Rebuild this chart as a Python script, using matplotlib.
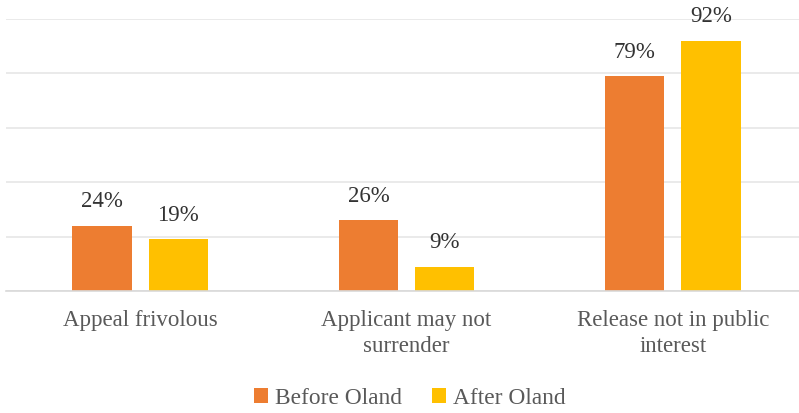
import matplotlib
matplotlib.use("Agg")
import matplotlib.pyplot as plt
import numpy as np

categories = ["Appeal frivolous", "Applicant may not\nsurrender", "Release not in public\ninterest"]
before = [24, 26, 79]
after = [19, 9, 92]
series_names = ["Before Oland", "After Oland"]
colors = ["#ED7D31", "#FFC000"]

plt.rcParams['font.family'] = ['Liberation Serif', 'DejaVu Serif']

fig = plt.figure(figsize=(7.99, 4.13), dpi=100)
ax = fig.add_axes([6/799, (413-291)/413, (799-6)/799, (291-19)/413])

x = np.arange(len(categories))
w = 0.222
off = 0.143
b1 = ax.bar(x - off, before, w, color=colors[0], label=series_names[0], zorder=3)
b2 = ax.bar(x + off, after, w, color=colors[1], label=series_names[1], zorder=3)

for bars, vals in ((b1, before), (b2, after)):
    for r, v in zip(bars, vals):
        ax.text(r.get_x() + r.get_width()/2, v + 5, f"{v}%", ha="center", va="bottom",
                fontsize=16.5, color="#333333", clip_on=False)

ax.set_xlim(-0.503, 2.473)
ax.set_ylim(0, 100)
ax.set_yticks([0, 20, 40, 60, 80, 100])
ax.yaxis.grid(True, color="#E6E6E6", linewidth=1.2, zorder=0)
ax.tick_params(axis="y", left=False, labelleft=False)
ax.tick_params(axis="x", bottom=False, pad=10)
ax.set_xticks(x)
ax.set_xticklabels(categories, fontsize=16.5, color="#595959", linespacing=1.3)
for s in ["top", "right", "left"]:
    ax.spines[s].set_visible(False)
ax.spines["bottom"].set_color("#D9D9D9")
ax.spines["bottom"].set_linewidth(1.2)
ax.spines["bottom"].set_zorder(4)

leg = fig.legend(handles=[b1, b2], labels=series_names, loc="center",
                 bbox_to_anchor=(410/799, 1 - 398/413), ncol=2, frameon=False,
                 fontsize=16.8, handlelength=0.6, handleheight=0.6, handletextpad=0.3,
                 columnspacing=1.3, labelcolor="#595959")

fig.savefig("out.png", dpi=100)
